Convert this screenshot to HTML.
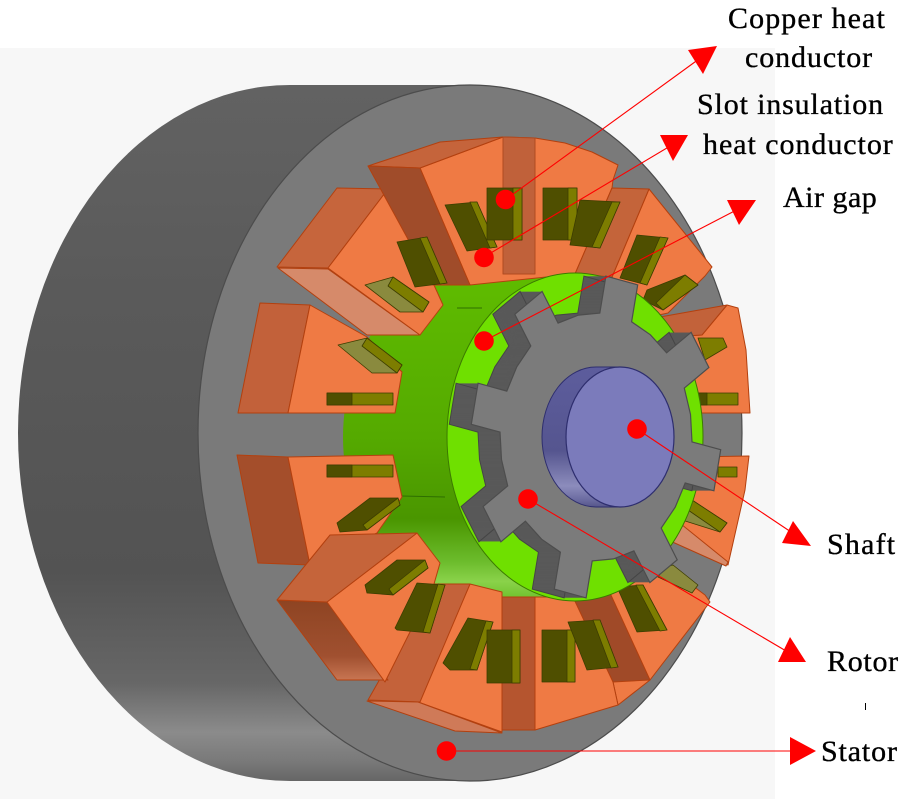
<!DOCTYPE html>
<html><head><meta charset="utf-8"><style>
html,body{margin:0;padding:0;background:#fff;}
#wrap{position:relative;width:900px;height:800px;overflow:hidden;}
svg{display:block;position:absolute;left:0;top:0;}
.lbl{position:absolute;font-family:"Liberation Serif","DejaVu Serif","Times New Roman",Times,"Noto Serif CJK SC",serif;font-size:30px;line-height:30px;color:#000;white-space:nowrap;margin:0;padding:0;-webkit-text-stroke:0.35px #000;}
</style></head><body>
<div id="wrap">
<svg width="900" height="800" viewBox="0 0 900 800" xmlns="http://www.w3.org/2000/svg">
<defs>
<linearGradient id="cyl" gradientUnits="userSpaceOnUse" x1="0" y1="85" x2="0" y2="781">
<stop offset="0" stop-color="#626262"/><stop offset="0.3" stop-color="#5a5a5a"/><stop offset="0.7" stop-color="#535353"/><stop offset="0.86" stop-color="#676767"/><stop offset="0.93" stop-color="#8b8b8b"/><stop offset="0.97" stop-color="#7a7a7a"/><stop offset="1" stop-color="#666"/>
</linearGradient>
<linearGradient id="drum" gradientUnits="userSpaceOnUse" x1="0" y1="273" x2="0" y2="601">
<stop offset="0" stop-color="#5fbc00"/><stop offset="0.5" stop-color="#55aa00"/><stop offset="0.75" stop-color="#4a9600"/><stop offset="0.88" stop-color="#6cbc2c"/><stop offset="0.94" stop-color="#8ad24a"/><stop offset="1" stop-color="#6cbf2a"/>
</linearGradient>
<linearGradient id="ll1d" gradientUnits="userSpaceOnUse" x1="0" y1="600" x2="0" y2="680">
<stop offset="0" stop-color="#8e4422"/><stop offset="0.7" stop-color="#a05030"/><stop offset="1" stop-color="#c87552"/>
</linearGradient>
<linearGradient id="shaft" gradientUnits="userSpaceOnUse" x1="0" y1="367" x2="0" y2="507">
<stop offset="0" stop-color="#5d5d9d"/><stop offset="0.6" stop-color="#55558f"/><stop offset="0.85" stop-color="#8c8cbc"/><stop offset="0.95" stop-color="#6a6aa0"/><stop offset="1" stop-color="#55558a"/>
</linearGradient>
<polygon id="gear" points="599.8,313.1 605.9,276.1 637.7,284.9 631.6,321.8 650.4,334.8 666.6,352.8 691.1,332.3 708.9,367.5 684.3,388.1 690.5,414.4 692.0,441.9 720.7,449.7 713.9,490.8 685.2,483.0 675.2,507.2 661.2,528.1 677.2,559.8 649.9,582.6 633.9,550.9 613.5,558.9 592.2,560.9 586.1,597.9 554.3,589.1 560.4,552.2 541.6,539.2 525.4,521.2 500.9,541.8 483.1,506.5 507.7,485.9 501.5,459.6 500.0,432.1 471.3,424.3 478.1,383.2 506.8,391.1 516.8,366.8 530.8,346.0 514.8,314.3 542.1,291.4 558.1,323.1 578.5,315.1"/>
</defs>

<rect x="0" y="0" width="900" height="800" fill="#ffffff"/>
<rect x="0" y="48" width="775" height="751" fill="#f7f7f7"/>

<path d="M290,85 L470,85 L470,781 L290,781 A272,348 0 0 1 18,433 A272,348 0 0 1 290,85 Z" fill="url(#cyl)"/>
<ellipse cx="470" cy="433" rx="272" ry="348" fill="#7a7a7a" stroke="#4c4c4c" stroke-width="1.2"/>

<path d="M471,273 L575,273 L575,601 L471,601 A128,164 0 0 1 343,437 A128,164 0 0 1 471,273 Z" fill="url(#drum)"/>
<line x1="457" y1="308" x2="482" y2="308" stroke="#2f6f00" stroke-width="1"/>
<line x1="402" y1="496" x2="445" y2="497" stroke="#2f6f00" stroke-width="1"/>

<g stroke="#b3400f" stroke-width="1" stroke-linejoin="round">
<polygon points="238,413 260,303 310,305 288,413" fill="#c2613a"/>
<polygon points="310,305 367,337 402,372 395,413 288,413" fill="#ef7a44"/>
<polygon points="237,455 288,457 310,565 258,563" fill="#a44e2b"/>
<polygon points="288,457 393,455 402,497 377,533 310,565" fill="#ef7a44"/>
<polygon points="277,267 337,188 388,189 328,268" fill="#c6653c"/>
<polygon points="278,268 328,269 420,335 367,335" fill="#d68a6a"/>
<polygon points="328,268 388,189 434,285 443,305 420,335" fill="#ef7a44"/>
<polygon points="420,168 503,137 535,138 565,143 592,152 618,165 613,180 612,188 575,274 470,285" fill="#ef7a44"/>
<polygon points="368,166 440,142 503,137 420,168" fill="#c5643b"/>
<polygon points="368,166 420,168 470,285 433,285" fill="#a04c2a"/>
<polygon points="503,137 535,138 535,274 503,274" fill="#c0613a" stroke="#b04a20"/>
<polygon points="649,189 712,267 705,276 668,313 645,318 612,277" fill="#ef7a44"/>
<polygon points="612,188 649,189 612,277 575,274" fill="#c4643a"/>
<polygon points="702,335 727,305 738,308 746,350 750,413 688,413 668,337" fill="#ef7a44"/>
<polygon points="660,317 727,305 702,335 668,337" fill="#c2623a"/>
<polygon points="690,457 749,456 745,490 728,565 690,548 675,520 688,470" fill="#ef7a44"/>
<polygon points="668,540 676,520 728,562 726,566" fill="#d68a6a"/>
<polygon points="610,593 650,575 665,565 705,595 710,602 650,680 618,705 613,682" fill="#ef7a44"/>
<polygon points="573,598 610,593 650,680 613,682" fill="#a04a28"/>
<polygon points="535,597 573,597 613,682 618,705 535,730" fill="#ef7a44"/>
<polygon points="502,597 535,597 535,730 502,730" fill="#b5552f"/>
<polygon points="470,584 502,592 502,732 418,702" fill="#ef7a44"/>
<polygon points="434,584 470,584 420,702 368,700" fill="#c4623a"/>
<polygon points="367,701 418,702 502,733 455,731" fill="#cf7a58"/>
<polygon points="277,600 327,602 388,680 337,680" fill="url(#ll1d)"/>
<polygon points="327,602 417,533 440,563 434,584 385,682" fill="#ef7a44"/>
<polygon points="277,600 330,535 417,533 327,602" fill="#c5643a"/>
</g>

<g stroke="#3d3d00" stroke-width="0.8" stroke-linejoin="round">
<polygon points="445,205 477,202 497,247 467,251" fill="#4f4f00"/>
<polygon points="470,202 477,202 497,247 490,248" fill="#7d7d00"/>
<rect x="487" y="188" width="35" height="52" fill="#4f4f00"/>
<rect x="513" y="188" width="9" height="52" fill="#7d7d00"/>
<rect x="543" y="188" width="34" height="52" fill="#4f4f00"/>
<rect x="568" y="188" width="9" height="52" fill="#7d7d00"/>
<polygon points="580,200 620,202 600,248 570,245" fill="#4f4f00"/>
<polygon points="612,202 620,202 600,248 592,247" fill="#7d7d00"/>
<polygon points="397,242 427,237 447,283 415,287" fill="#4f4f00"/>
<polygon points="420,238 427,237 447,283 440,284" fill="#7d7d00"/>
<polygon points="637,235 668,238 647,285 620,278" fill="#4f4f00"/>
<polygon points="660,237 668,238 647,285 640,283" fill="#7d7d00"/>
<polygon points="647,290 685,275 698,285 663,310 643,300" fill="#4f4f00"/>
<polygon points="685,275 698,285 663,310 656,303" fill="#7d7d00"/>
<polygon points="365,285 393,277 429,302 423,312 400,312" fill="#8a8a3e"/>
<polygon points="393,277 429,302 423,312 388,286" fill="#7d7d00"/>
<polygon points="338,345 367,338 402,365 397,373 372,373" fill="#8a8a3e"/>
<polygon points="367,338 402,365 397,373 362,346" fill="#7d7d00"/>
<rect x="327" y="393" width="66" height="12" fill="#7d7d00"/>
<rect x="327" y="393" width="25" height="12" fill="#4f4f00"/>
<rect x="327" y="465" width="66" height="12" fill="#7d7d00"/>
<rect x="327" y="465" width="25" height="12" fill="#4f4f00"/>
<polygon points="337,523 370,498 398,498 400,505 367,530 340,532" fill="#4f4f00"/>
<polygon points="398,498 400,505 367,530 363,525" fill="#7d7d00"/>
<polygon points="365,585 397,560 425,560 428,568 393,595 367,593" fill="#4f4f00"/>
<polygon points="425,560 428,568 393,595 389,589" fill="#7d7d00"/>
<polygon points="395,628 417,583 445,585 430,633 397,630" fill="#4f4f00"/>
<polygon points="438,584 445,585 430,633 423,632" fill="#7d7d00"/>
<polygon points="443,663 468,618 493,622 477,670 450,670" fill="#4f4f00"/>
<polygon points="486,621 493,622 477,670 470,669" fill="#7d7d00"/>
<rect x="487" y="630" width="33" height="53" fill="#4f4f00"/>
<rect x="512" y="630" width="8" height="53" fill="#7d7d00"/>
<rect x="542" y="630" width="33" height="52" fill="#4f4f00"/>
<rect x="567" y="630" width="8" height="52" fill="#7d7d00"/>
<polygon points="568,622 600,620 618,667 587,670" fill="#4f4f00"/>
<polygon points="593,620 600,620 618,667 611,668" fill="#7d7d00"/>
<polygon points="617,587 643,585 667,630 637,632" fill="#4f4f00"/>
<polygon points="636,585 643,585 667,630 660,631" fill="#7d7d00"/>
<polygon points="658,577 665,567 673,565 698,585 692,593" fill="#8a8a3e"/>
<polygon points="682,520 683,500 692,500 727,523 720,532" fill="#8a8a3e"/>
<polygon points="692,500 727,523 720,532 688,510" fill="#7d7d00"/>
<rect x="718" y="467" width="19" height="10" fill="#7d7d00"/>
<polygon points="698,338 723,338 727,347 705,360" fill="#7d7d00"/>
<rect x="693" y="393" width="45" height="12" fill="#7d7d00"/>
<rect x="693" y="393" width="14" height="12" fill="#4f4f00"/>
</g>

<ellipse cx="575" cy="437" rx="128" ry="164" fill="#6fe000" stroke="#3c7a00" stroke-width="1"/>

<g fill="#595959">
<use href="#gear" x="-22"/><use href="#gear" x="-21"/><use href="#gear" x="-20"/><use href="#gear" x="-19"/>
<use href="#gear" x="-18"/><use href="#gear" x="-17"/><use href="#gear" x="-16"/><use href="#gear" x="-15"/>
<use href="#gear" x="-14"/><use href="#gear" x="-13"/><use href="#gear" x="-12"/><use href="#gear" x="-11"/>
<use href="#gear" x="-10"/><use href="#gear" x="-9"/><use href="#gear" x="-8"/><use href="#gear" x="-7"/>
<use href="#gear" x="-6"/><use href="#gear" x="-5"/><use href="#gear" x="-4"/><use href="#gear" x="-3"/>
<use href="#gear" x="-2"/><use href="#gear" x="-1"/>
</g>
<use href="#gear" x="-22" fill="none" stroke="#454545" stroke-width="1"/>
<use href="#gear" fill="#7b7b7b" stroke="#4d4d4d" stroke-width="1.2"/>

<path d="M596,367 L620,367 L620,507 L596,507 A54,70 0 0 1 542,437 A54,70 0 0 1 596,367 Z" fill="url(#shaft)" stroke="#2e2e6e" stroke-width="1"/>
<ellipse cx="620" cy="437" rx="54" ry="70" fill="#7b7bbb" stroke="#2e2e6e" stroke-width="1.2"/>

<g stroke="#ff0000" stroke-width="1.1" fill="none">
<line x1="505" y1="200" x2="710" y2="51"/>
<line x1="484" y1="257" x2="682" y2="139"/>
<line x1="484" y1="341" x2="748" y2="204"/>
<line x1="637" y1="429" x2="803" y2="540"/>
<line x1="528" y1="499" x2="798" y2="658"/>
<line x1="447" y1="751" x2="808" y2="751"/>
</g>
<g fill="#ff0000">
<circle cx="505.5" cy="199.5" r="9.8"/>
<circle cx="484" cy="257.5" r="9.8"/>
<circle cx="484" cy="341" r="9.8"/>
<circle cx="637" cy="429" r="9.8"/>
<circle cx="528" cy="499" r="9.8"/>
<circle cx="446.5" cy="751" r="9.8"/>
<polygon points="688,50 717,46 703,74"/>
<polygon points="660,135 688,135 673,161"/>
<polygon points="727,200 756,200 739,225"/>
<polygon points="793,521 811,546 782,543"/>
<polygon points="790,637 806,662 778,662"/>
<polygon points="790,737 816,751 790,765"/>
</g>
<line x1="865.5" y1="703" x2="865.5" y2="710" stroke="#000" stroke-width="1"/>
</svg>

<div class="lbl" style="left:728px;top:4px;letter-spacing:1.1px;">Copper heat</div>
<div class="lbl" style="left:745px;top:43px;letter-spacing:0.9px;">conductor</div>
<div class="lbl" style="left:697px;top:90px;letter-spacing:0.85px;">Slot insulation</div>
<div class="lbl" style="left:703px;top:130px;letter-spacing:0.95px;">heat conductor</div>
<div class="lbl" style="left:783px;top:183px;letter-spacing:0.5px;">Air gap</div>
<div class="lbl" style="left:827px;top:530px;letter-spacing:1.2px;">Shaft</div>
<div class="lbl" style="left:827px;top:647px;letter-spacing:0.7px;">Rotor</div>
<div class="lbl" style="left:821px;top:737px;letter-spacing:0.86px;">Stator</div>
</div>
</body></html>
